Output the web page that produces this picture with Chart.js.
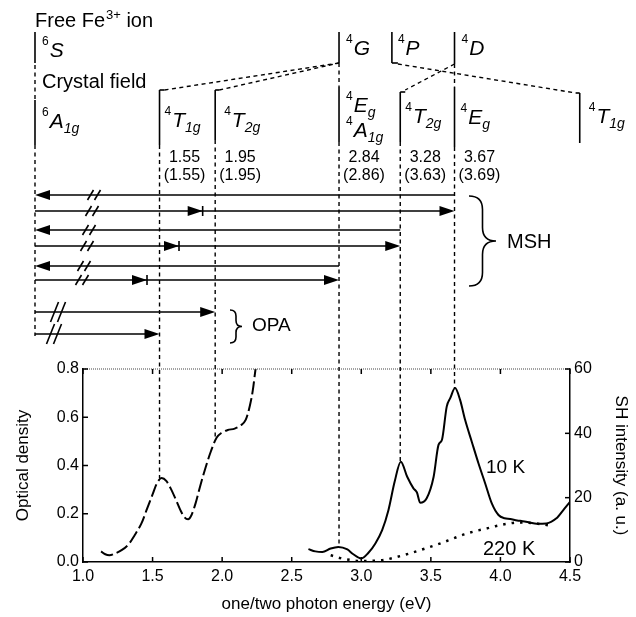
<!DOCTYPE html>
<html>
<head>
<meta charset="utf-8">
<script src="https://cdn.jsdelivr.net/npm/chart.js@4.4.1/dist/chart.umd.min.js"></script>
<style>
  html, body { margin: 0; padding: 0; background: #fff; }
  canvas { display: block; }
</style>
</head>
<body>
<canvas id="spectrum" width="636" height="617"></canvas>
<script>
const FONT = '"Liberation Sans", Arial, sans-serif';

// one-photon absorption (left axis, optical density)
const opaEnergy = [1.13, 1.16, 1.19, 1.23, 1.28, 1.33, 1.37, 1.42, 1.46, 1.50, 1.53, 1.565, 1.60, 1.63, 1.67, 1.70, 1.73, 1.755, 1.78, 1.81, 1.84, 1.88, 1.92, 1.96, 2.00, 2.04, 2.09, 2.13, 2.17, 2.20, 2.22, 2.24, 2.26];
const opaDensity = [0.044, 0.032, 0.028, 0.035, 0.050, 0.075, 0.11, 0.16, 0.22, 0.28, 0.325, 0.348, 0.335, 0.305, 0.255, 0.215, 0.185, 0.177, 0.195, 0.245, 0.31, 0.39, 0.46, 0.515, 0.537, 0.547, 0.553, 0.565, 0.59, 0.65, 0.71, 0.80, 0.88];

// magnetic SH intensity at 10 K (right axis)
const sh10Energy = [2.62, 2.67, 2.72, 2.78, 2.835, 2.90, 2.94, 3.00, 3.05, 3.10, 3.15, 3.195, 3.24, 3.284, 3.33, 3.375, 3.40, 3.423, 3.47, 3.52, 3.555, 3.58, 3.614, 3.64, 3.674, 3.71, 3.746, 3.794, 3.842, 3.89, 3.938, 3.986, 4.03, 4.07, 4.12, 4.16, 4.21, 4.26, 4.33, 4.40, 4.46, 4.50];
const sh10Intensity = [4.0, 3.3, 3.1, 4.2, 4.7, 3.9, 2.5, 1.1, 2.8, 5.7, 9.9, 16.1, 25.0, 31.2, 26.5, 22.9, 21.6, 18.4, 19.8, 26.5, 36.4, 38.0, 48.3, 51.0, 54.1, 50.4, 44.2, 37.4, 30.7, 24.5, 18.2, 14.6, 13.6, 13.4, 12.9, 12.7, 12.3, 11.9, 12.0, 13.5, 16.6, 18.7];

// magnetic SH intensity at 220 K (right axis)
const sh220Energy = [2.78, 2.85, 2.93, 3.00, 3.08, 3.16, 3.25, 3.35, 3.46, 3.57, 3.66, 3.74, 3.82, 3.90, 3.97, 4.05, 4.13, 4.20, 4.27, 4.35];
const sh220Intensity = [2.1, 1.2, 0.6, 0.3, 0.4, 0.6, 1.5, 2.7, 4.2, 5.8, 7.3, 8.6, 9.6, 10.4, 11.2, 11.9, 12.3, 12.2, 11.9, 11.4];

const xTicks = [1.0, 1.5, 2.0, 2.5, 3.0, 3.5, 4.0, 4.5];
const odTicks = [0, 0.2, 0.4, 0.6, 0.8];
const shTicks = [0, 20, 40, 60];

// crystal field levels (eV): observed and calculated energies
const levelEnergy = [1.55, 1.95, 2.84, 3.28, 3.67];
const levelObserved = ["1.55", "1.95", "2.84", "3.28", "3.67"];
const levelCalculated = ["(1.55)", "(1.95)", "(2.86)", "(3.63)", "(3.69)"];
// where each dashed guide meets the spectrum
const levelMeetAxis = ["y", "y", "y2", "y2", "y2"];
const levelMeetValue = [0.348, 0.52, 4.7, 31.2, 54.1];

const groundEnergy = 0.655;      // ground state, drawn left of the axis break
const freeIonEnergy = [2.84, 3.22, 3.67];   // 4G, 4P, 4D
const upperT1gEnergy = 4.57;
const mshTargets = [3.67, 3.28, 2.84];
const mshHalfPhoton = [1.86, 1.69, 1.46];
const opaTargets = [1.95, 1.55];

function points(xs, ys) {
    return xs.map((x, i) => ({ x: x, y: ys[i] }));
}

function line(ctx, x1, y1, x2, y2, dash) {
    ctx.setLineDash(dash || []);
    ctx.beginPath();
    ctx.moveTo(x1, y1);
    ctx.lineTo(x2, y2);
    ctx.stroke();
}

function arrowHead(ctx, tip, y, dir) {
    ctx.beginPath();
    ctx.moveTo(tip, y);
    ctx.lineTo(tip - dir * 15, y - 5);
    ctx.lineTo(tip - dir * 15, y + 5);
    ctx.closePath();
    ctx.fill();
}

function breakMark(ctx, cx, y, h, w) {
    for (const dx of [-3.5, 3.5]) {
        line(ctx, cx + dx - w / 2, y + h / 2, cx + dx + w / 2, y - h / 2);
    }
}

function brace(ctx, x, top, bottom, w) {
    const mid = (top + bottom) / 2;
    const h = w / 2;
    ctx.setLineDash([]);
    ctx.beginPath();
    ctx.moveTo(x, top);
    ctx.quadraticCurveTo(x + h, top, x + h, top + h);
    ctx.lineTo(x + h, mid - h);
    ctx.quadraticCurveTo(x + h, mid, x + w, mid);
    ctx.quadraticCurveTo(x + h, mid, x + h, mid + h);
    ctx.lineTo(x + h, bottom - h);
    ctx.quadraticCurveTo(x + h, bottom, x, bottom);
    ctx.stroke();
}

// term symbol: superscript multiplicity, italic letter, italic subscript
function term(ctx, x, y, sup, main, sub) {
    ctx.font = "12px " + FONT;
    ctx.fillText(sup, x, y - 12);
    x += ctx.measureText(sup).width + 1;
    ctx.font = "italic 21px " + FONT;
    ctx.fillText(main, x, y);
    x += ctx.measureText(main).width;
    if (sub) {
        ctx.font = "italic 14px " + FONT;
        ctx.fillText(sub, x, y + 5);
    }
}

const diagram = {
    id: "diagram",
    afterDraw(chart) {
        const ctx = chart.ctx;
        const sx = chart.scales.x;
        const area = chart.chartArea;
        const px = e => sx.getPixelForValue(e);
        const DASH = [4, 3.5];
        ctx.save();
        ctx.strokeStyle = "#000";
        ctx.fillStyle = "#000";
        ctx.textBaseline = "alphabetic";

        // frame: dotted top edge, inward ticks
        ctx.lineWidth = 1;
        ctx.strokeStyle = "#444";
        line(ctx, area.left, area.top, area.right, area.top, [1, 1]);
        ctx.strokeStyle = "#000";
        ctx.lineWidth = 1.5;
        xTicks.forEach(v => {
            const p = px(v);
            line(ctx, p, area.bottom, p, area.bottom - 5);
            line(ctx, p, area.top, p, area.top + 5);
        });
        odTicks.forEach(v => {
            const p = chart.scales.y.getPixelForValue(v);
            line(ctx, area.left, p, area.left + 5, p);
        });
        shTicks.forEach(v => {
            const p = chart.scales.y2.getPixelForValue(v);
            line(ctx, area.right, p, area.right - 5, p);
        });

        // headings
        ctx.font = "20px " + FONT;
        ctx.fillText("Free Fe", 35, 27);
        let w = ctx.measureText("Free Fe").width;
        ctx.font = "13px " + FONT;
        ctx.fillText("3+", 35 + w + 1, 19);
        const w2 = ctx.measureText("3+").width + 1;
        ctx.font = "20px " + FONT;
        ctx.fillText(" ion", 35 + w + w2, 27);
        ctx.fillText("Crystal field", 42, 88);

        // free-ion levels
        const g = px(groundEnergy);
        const [pG, pP, pD] = freeIonEnergy.map(px);
        ctx.lineWidth = 1.6;
        line(ctx, g, 32, g, 63);
        line(ctx, pG, 32, pG, 63);
        line(ctx, pP, 32, pP, 63);
        line(ctx, pP, 63, pP + 6, 63);
        line(ctx, pD, 32, pD, 64);
        term(ctx, g + 7, 57, "6", "S");
        term(ctx, pG + 7, 55, "4", "G");
        term(ctx, pP + 6, 55, "4", "P");
        term(ctx, pD + 7, 55, "4", "D");

        // crystal-field levels
        const lv = levelEnergy.map(px);
        const pT = px(upperT1gEnergy);
        line(ctx, g, 100, g, 145);
        line(ctx, lv[0], 90, lv[0], 145);
        line(ctx, lv[0], 90, lv[0] + 5, 90);
        line(ctx, lv[1], 90, lv[1], 140);
        line(ctx, lv[1], 90, lv[1] + 4, 90);
        line(ctx, lv[2], 87, lv[2], 142);
        line(ctx, lv[3], 92, lv[3], 142);
        line(ctx, lv[3], 92, lv[3] + 5, 92);
        line(ctx, lv[4], 87, lv[4], 147);
        line(ctx, pT, 93, pT, 143);
        line(ctx, pT, 93, pT - 4, 93);
        term(ctx, g + 7, 128, "6", "A", "1g");
        term(ctx, lv[0] + 5, 127, "4", "T", "1g");
        term(ctx, lv[1] + 9, 127, "4", "T", "2g");
        term(ctx, lv[2] + 7, 112, "4", "E", "g");
        term(ctx, lv[2] + 7, 137, "4", "A", "1g");
        term(ctx, lv[3] + 5, 123, "4", "T", "2g");
        term(ctx, lv[4] + 6, 124, "4", "E", "g");
        term(ctx, pT + 9, 123, "4", "T", "1g");

        // correlation lines between free ion and crystal field
        ctx.lineWidth = 1.4;
        line(ctx, g, 65, g, 100, DASH);
        line(ctx, lv[0] + 5, 90, pG, 63, DASH);
        line(ctx, lv[1] + 4, 90, pG, 63, DASH);
        line(ctx, pG, 63, pG, 87, DASH);
        line(ctx, pP + 6, 64, pT - 4, 93, DASH);
        line(ctx, pD, 64, lv[3] + 5, 90, DASH);
        line(ctx, pD, 64, pD, 87, DASH);

        // energies
        ctx.textAlign = "center";
        ctx.font = "16px " + FONT;
        lv.forEach((p, i) => {
            ctx.fillText(levelObserved[i], p + 25, 162);
            ctx.fillText(levelCalculated[i], p + 25, 180);
        });
        ctx.textAlign = "left";

        // dashed guides down to the spectrum
        line(ctx, g, 145, g, 336, DASH);
        lv.forEach((p, i) => {
            const top = [145, 140, 142, 142, 147][i];
            const end = chart.scales[levelMeetAxis[i]].getPixelForValue(levelMeetValue[i]);
            line(ctx, p, top, p, end, DASH);
        });

        // MSH transitions: emission back to ground and two-photon excitation
        ctx.lineWidth = 1.6;
        const mshRows = [195, 211, 230, 246, 266, 280];
        mshTargets.forEach((e, i) => {
            const t = px(e);
            const yA = mshRows[2 * i], yB = mshRows[2 * i + 1];
            line(ctx, g + 10, yA, t, yA);
            arrowHead(ctx, g, yA, -1);
            line(ctx, g, yB, t - 12, yB);
            arrowHead(ctx, t, yB, 1);
            const h = px(mshHalfPhoton[i]);
            arrowHead(ctx, h, yB, 1);
            line(ctx, h, yB - 5, h, yB + 5);
            breakMark(ctx, 94 - 5 * i, yA, 10, 6);
            breakMark(ctx, 92 - 5 * i, yB, 10, 6);
        });
        brace(ctx, 469, 196, 286, 27);
        ctx.font = "20px " + FONT;
        ctx.textBaseline = "middle";
        ctx.fillText("MSH", 507, 242);

        // OPA transitions
        const opaRows = [312, 334];
        ctx.lineWidth = 1.6;
        opaTargets.forEach((e, i) => {
            const t = px(e);
            const y = opaRows[i];
            line(ctx, g, y, t - 12, y);
            arrowHead(ctx, t, y, 1);
            breakMark(ctx, 58 - 4 * i, y, 20, 8);
        });
        brace(ctx, 230, 310, 343, 12);
        ctx.font = "19px " + FONT;
        ctx.fillText("OPA", 252, 326);

        // curve labels
        ctx.textBaseline = "alphabetic";
        ctx.font = "19px " + FONT;
        ctx.fillText("10 K", 486, 473);
        ctx.font = "20px " + FONT;
        ctx.fillText("220 K", 483, 555);
        ctx.restore();
    }
};

const fixedTicks = list => scale => {
    scale.ticks = list.map(v => ({ value: v }));
};

const tickFont = { family: FONT, size: 16 };
const titleFont = { family: FONT, size: 17 };

new Chart(document.getElementById("spectrum").getContext("2d"), {
    type: "line",
    data: {
        datasets: [{
            label: "OPA",
            data: points(opaEnergy, opaDensity),
            yAxisID: "y",
            borderColor: "#000",
            borderWidth: 2,
            borderDash: [13, 4],
            pointRadius: 0,
            cubicInterpolationMode: "monotone",
        },
        {
            label: "10 K",
            data: points(sh10Energy, sh10Intensity),
            yAxisID: "y2",
            borderColor: "#000",
            borderWidth: 2,
            pointRadius: 0,
            cubicInterpolationMode: "monotone",
        },
        {
            label: "220 K",
            data: points(sh220Energy, sh220Intensity),
            yAxisID: "y2",
            borderColor: "#000",
            borderWidth: 2.5,
            borderDash: [2.5, 6],
            pointRadius: 0,
            cubicInterpolationMode: "monotone",
        }],
    },
    options: {
        responsive: false,
        animation: false,
        layout: { padding: { top: 369, left: 0, right: 0, bottom: 0 } },
        plugins: {
            legend: { display: false },
            tooltip: { enabled: false },
        },
        scales: {
            x: {
                type: "linear",
                min: 1.0,
                max: 4.5,
                afterBuildTicks: fixedTicks(xTicks),
                afterFit: s => { s.height = 55; },
                grid: { display: false, drawTicks: false },
                border: { color: "#000", width: 1.5 },
                ticks: { color: "#000", font: tickFont, padding: 5, callback: v => v.toFixed(1) },
                title: { display: true, text: "one/two photon energy (eV)", color: "#000", font: titleFont, padding: { bottom: 2 } },
            },
            y: {
                position: "left",
                min: 0,
                max: 0.8,
                afterBuildTicks: fixedTicks(odTicks),
                afterFit: s => { s.width = 83; },
                grid: { display: false, drawTicks: false },
                border: { color: "#000", width: 1.5 },
                ticks: { color: "#000", font: tickFont, padding: 4, callback: v => v.toFixed(1) },
                title: { display: true, text: "Optical density", color: "#000", font: titleFont, padding: { top: 13 } },
            },
            y2: {
                position: "right",
                min: 0,
                max: 60,
                afterBuildTicks: fixedTicks(shTicks),
                afterFit: s => { s.width = 66; },
                grid: { display: false, drawTicks: false },
                border: { color: "#000", width: 1.5 },
                ticks: { color: "#000", font: tickFont, padding: 4, callback: v => String(v) },
                title: { display: true, text: "SH intensity (a. u.)", color: "#000", font: titleFont, padding: { top: 5 } },
            },
        },
    },
    plugins: [diagram],
});
</script>
</body>
</html>
